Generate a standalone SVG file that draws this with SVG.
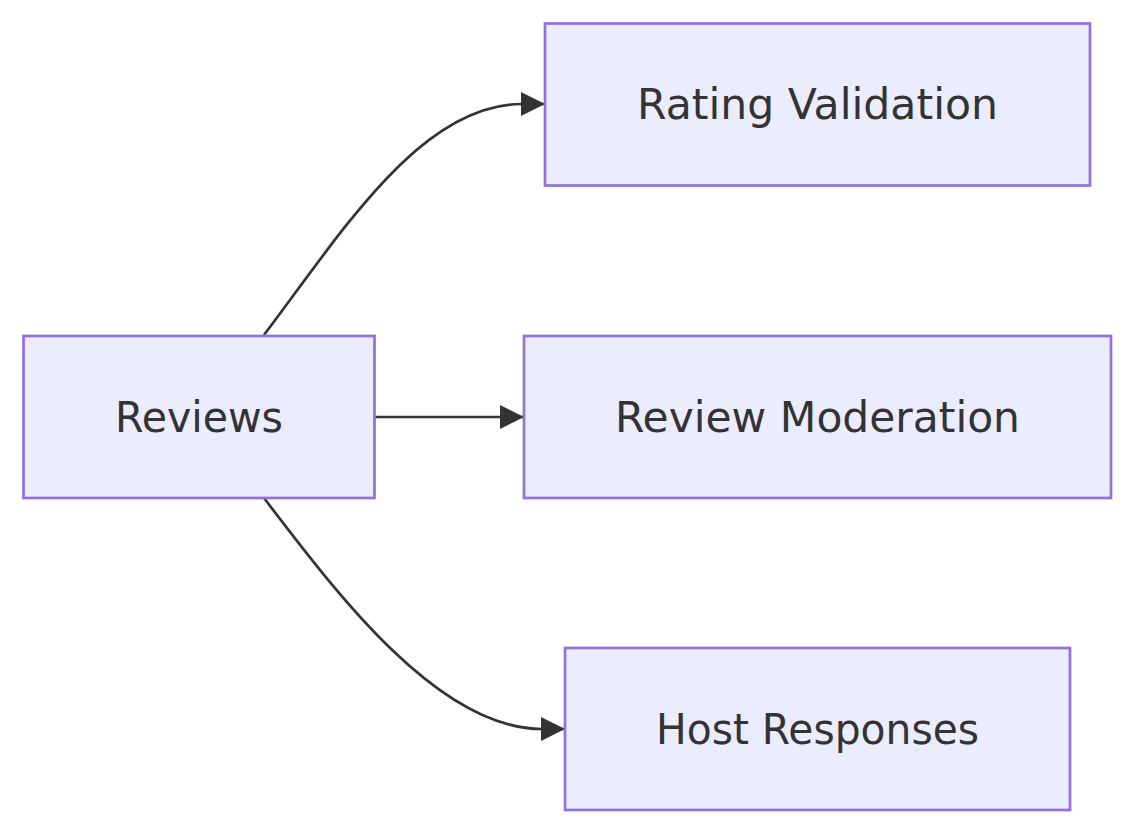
<svg xmlns="http://www.w3.org/2000/svg" width="1135" height="834" viewBox="0 0 1135 834">
<style>
.node rect{fill:#ECECFF;stroke:#9370DB;stroke-width:2.7px;}
.node text{font-family:"DejaVu Sans",Verdana,sans-serif;font-size:42px;fill:#333333;text-anchor:middle;dominant-baseline:central;}
.edge{fill:none;stroke:#333333;stroke-width:2.7px;}
</style>
<defs>
<marker id="arrow" markerUnits="userSpaceOnUse" markerWidth="24" markerHeight="24" refX="23" refY="12" orient="auto" viewBox="0 0 24 24">
<path d="M0,0 L24,12 L0,24 Z" fill="#333333"/>
</marker>
</defs>
<rect width="1135" height="834" fill="#ffffff"/>
<g id="connectors">
<path class="edge" d="M264,335 C340,235 420,104 522,104 L544,104" marker-end="url(#arrow)"/>
<path class="edge" d="M375,417 L523,417" marker-end="url(#arrow)"/>
<path class="edge" d="M264,498 C340,598 440,729 542,729 L564,729" marker-end="url(#arrow)"/>
</g>
<g id="node-reviews" class="node">
<rect x="23.5" y="336" width="351" height="162"/>
<text x="199" y="417" textLength="168" lengthAdjust="spacingAndGlyphs">Reviews</text>
</g>
<g id="node-rating" class="node">
<rect x="545" y="23.5" width="545" height="162"/>
<text x="817.5" y="104.5" textLength="361" lengthAdjust="spacingAndGlyphs">Rating Validation</text>
</g>
<g id="node-moderation" class="node">
<rect x="524" y="336" width="587" height="162"/>
<text x="817.5" y="417" textLength="405" lengthAdjust="spacingAndGlyphs">Review Moderation</text>
</g>
<g id="node-host" class="node">
<rect x="565" y="648" width="505" height="162"/>
<text x="817.5" y="729" textLength="323" lengthAdjust="spacingAndGlyphs">Host Responses</text>
</g>
</svg>
